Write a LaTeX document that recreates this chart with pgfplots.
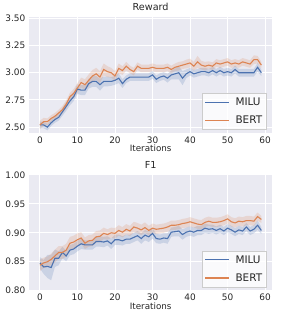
\documentclass[border=0pt]{standalone}
\usepackage{pgfplots}
\pgfplotsset{compat=1.18}
\usepackage{pgfplotstable}
\usepgfplotslibrary{fillbetween}
\usepackage{fontspec}
\setmainfont{DejaVu Sans}
\definecolor{sbblue}{HTML}{4C72B0}
\definecolor{sborange}{HTML}{DD8452}
\definecolor{sbbg}{HTML}{EAEAF2}
\definecolor{sbtext}{gray}{0.15}
\definecolor{sbedge}{gray}{0.8}

\pgfplotstableread{
x m d
0 2.52 0.030
1 2.52 0.030
2 2.50 0.030
3 2.54 0.030
4 2.57 0.030
5 2.59 0.030
6 2.64 0.035
7 2.69 0.040
8 2.74 0.040
9 2.78 0.040
10 2.85 0.045
11 2.84 0.045
12 2.84 0.045
13 2.90 0.045
14 2.92 0.050
15 2.92 0.050
16 2.89 0.055
17 2.92 0.045
18 2.92 0.045
19 2.92 0.040
20 2.93 0.040
21 2.95 0.045
22 2.90 0.040
23 2.94 0.035
24 2.96 0.035
25 2.96 0.035
26 2.96 0.035
27 2.96 0.035
28 2.96 0.035
29 2.96 0.035
30 2.98 0.035
31 2.94 0.035
32 2.96 0.035
33 2.97 0.035
34 2.95 0.040
35 2.98 0.040
36 2.99 0.050
37 3.00 0.060
38 2.95 0.065
39 2.99 0.040
40 3.01 0.035
41 2.99 0.035
42 3.00 0.035
43 3.01 0.035
44 3.01 0.035
45 3.00 0.035
46 3.02 0.035
47 3.00 0.035
48 3.02 0.035
49 3.00 0.035
50 3.01 0.035
51 3.00 0.035
52 3.03 0.035
53 3.00 0.035
54 3.00 0.035
55 3.00 0.035
56 3.00 0.035
57 3.00 0.035
58 3.05 0.040
59 3.00 0.030
}\milureward

\pgfplotstableread{
x m d
0 2.52 0.040
1 2.55 0.035
2 2.55 0.030
3 2.58 0.030
4 2.60 0.030
5 2.63 0.030
6 2.66 0.035
7 2.71 0.035
8 2.78 0.035
9 2.81 0.040
10 2.86 0.045
11 2.91 0.045
12 2.89 0.050
13 2.93 0.055
14 2.97 0.055
15 2.99 0.055
16 2.96 0.055
17 3.03 0.055
18 3.01 0.050
19 3.00 0.045
20 2.97 0.045
21 3.04 0.045
22 3.02 0.040
23 3.06 0.040
24 3.03 0.035
25 3.01 0.035
26 3.06 0.035
27 3.04 0.035
28 3.04 0.035
29 3.04 0.035
30 3.05 0.035
31 3.04 0.035
32 3.04 0.035
33 3.04 0.035
34 3.05 0.035
35 3.03 0.035
36 3.05 0.035
37 3.06 0.040
38 3.07 0.035
39 3.08 0.040
40 3.09 0.040
41 3.06 0.040
42 3.10 0.055
43 3.07 0.040
44 3.06 0.040
45 3.07 0.035
46 3.06 0.035
47 3.09 0.035
48 3.08 0.035
49 3.09 0.035
50 3.10 0.035
51 3.08 0.035
52 3.09 0.035
53 3.08 0.035
54 3.10 0.035
55 3.09 0.035
56 3.08 0.035
57 3.12 0.040
58 3.12 0.035
59 3.07 0.030
}\bertreward

\pgfplotstableread{
x m d
0 0.848 0.010
1 0.841 0.012
2 0.842 0.020
3 0.840 0.022
4 0.856 0.015
5 0.856 0.012
6 0.866 0.010
7 0.860 0.009
8 0.870 0.009
9 0.872 0.009
10 0.877 0.009
11 0.881 0.009
12 0.879 0.008
13 0.879 0.008
14 0.879 0.008
15 0.885 0.009
16 0.885 0.009
17 0.884 0.009
18 0.886 0.008
19 0.881 0.009
20 0.888 0.009
21 0.888 0.009
22 0.886 0.008
23 0.889 0.008
24 0.889 0.008
25 0.892 0.008
26 0.895 0.008
27 0.890 0.009
28 0.896 0.009
29 0.893 0.009
30 0.899 0.009
31 0.890 0.008
32 0.889 0.008
33 0.891 0.008
34 0.890 0.009
35 0.901 0.008
36 0.902 0.008
37 0.903 0.009
38 0.897 0.009
39 0.901 0.008
40 0.903 0.008
41 0.901 0.008
42 0.904 0.008
43 0.904 0.008
44 0.908 0.008
45 0.906 0.008
46 0.907 0.007
47 0.904 0.007
48 0.907 0.007
49 0.903 0.007
50 0.908 0.007
51 0.905 0.007
52 0.901 0.007
53 0.905 0.007
54 0.903 0.007
55 0.910 0.007
56 0.903 0.007
57 0.906 0.007
58 0.913 0.008
59 0.904 0.006
}\miluff

\pgfplotstableread{
x m d
0 0.844 0.010
1 0.848 0.009
2 0.850 0.009
3 0.854 0.010
4 0.860 0.011
5 0.866 0.011
6 0.866 0.011
7 0.870 0.011
8 0.882 0.011
9 0.884 0.011
10 0.888 0.011
11 0.891 0.010
12 0.882 0.010
13 0.886 0.010
14 0.887 0.010
15 0.893 0.010
16 0.894 0.010
17 0.899 0.010
18 0.897 0.009
19 0.900 0.009
20 0.899 0.009
21 0.904 0.009
22 0.901 0.009
23 0.906 0.009
24 0.903 0.009
25 0.910 0.009
26 0.908 0.009
27 0.905 0.009
28 0.909 0.009
29 0.904 0.008
30 0.908 0.008
31 0.906 0.008
32 0.907 0.008
33 0.908 0.008
34 0.910 0.008
35 0.913 0.008
36 0.913 0.008
37 0.914 0.008
38 0.916 0.008
39 0.917 0.008
40 0.919 0.008
41 0.917 0.008
42 0.915 0.008
43 0.914 0.008
44 0.918 0.008
45 0.920 0.008
46 0.918 0.008
47 0.918 0.008
48 0.919 0.008
49 0.921 0.008
50 0.924 0.008
51 0.919 0.008
52 0.917 0.008
53 0.920 0.008
54 0.919 0.008
55 0.921 0.008
56 0.921 0.008
57 0.920 0.008
58 0.928 0.007
59 0.923 0.006
}\bertff

\pgfplotsset{sbstyle/.style={
  scale only axis, width=245pt, height=116.5pt,
  axis background/.style={fill=sbbg},
  axis line style={draw=none},
  grid=major, major grid style={white, line width=0.9pt},
  tick style={draw=none},
  xmin=-2.95, xmax=61.95, xtick={0,10,...,60},
  ticklabel style={font=\fontsize{9}{10}\selectfont, text=sbtext},
  /pgf/number format/assume math mode=true,
  xlabel={Iterations},
  xlabel style={font=\fontsize{8.8}{10}\selectfont, text=sbtext, yshift=5pt},
  title style={font=\fontsize{9.7}{11}\selectfont, text=sbtext, yshift=-3pt},
  legend cell align=left,
  legend style={at={(0.975,0.03)}, anchor=south east,
    font=\fontsize{10.5}{12}\selectfont, text=sbtext,
    draw=sbedge, fill=white, fill opacity=0.8, text opacity=1,
    inner xsep=2pt, inner ysep=2.5pt, row sep=5pt,
    nodes={inner sep=2pt}},
  legend image code/.code={\draw[#1] (0pt,0pt) -- (24pt,0pt); \path (0pt,0pt) (28pt,0pt);},
}}

\begin{document}
\begin{tikzpicture}
\begin{axis}[sbstyle, at={(29pt,192pt)}, anchor=south west,
  title={Reward}, ymin=2.445, ymax=3.51,
  ytick={2.50,2.75,3.00,3.25,3.50},
  yticklabel style={/pgf/number format/.cd, fixed, fixed zerofill, precision=2}]
\addplot[name path=mrh, draw=none, forget plot] table[x=x, y expr=\thisrow{m}+\thisrow{d}] {\milureward};
\addplot[name path=mrl, draw=none, forget plot] table[x=x, y expr=\thisrow{m}-\thisrow{d}] {\milureward};
\addplot[fill=sbblue, fill opacity=0.2, draw=none, forget plot] fill between[of=mrh and mrl];
\addplot[name path=brh, draw=none, forget plot] table[x=x, y expr=\thisrow{m}+\thisrow{d}] {\bertreward};
\addplot[name path=brl, draw=none, forget plot] table[x=x, y expr=\thisrow{m}-\thisrow{d}] {\bertreward};
\addplot[fill=sborange, fill opacity=0.2, draw=none, forget plot] fill between[of=brh and brl];
\addplot[sbblue, line width=1.1pt] table[x=x, y=m] {\milureward};
\addlegendentry{MILU}
\addplot[sborange, line width=1.1pt] table[x=x, y=m] {\bertreward};
\addlegendentry{BERT}
\end{axis}
\begin{axis}[sbstyle, at={(29pt,33.5pt)}, anchor=south west,
  title={F1}, ymin=0.80, ymax=1.00,
  ytick={0.80,0.85,0.90,0.95,1.00},
  yticklabel style={/pgf/number format/.cd, fixed, fixed zerofill, precision=2}]
\addplot[name path=mfh, draw=none, forget plot] table[x=x, y expr=\thisrow{m}+\thisrow{d}] {\miluff};
\addplot[name path=mfl, draw=none, forget plot] table[x=x, y expr=\thisrow{m}-\thisrow{d}] {\miluff};
\addplot[fill=sbblue, fill opacity=0.2, draw=none, forget plot] fill between[of=mfh and mfl];
\addplot[name path=bfh, draw=none, forget plot] table[x=x, y expr=\thisrow{m}+\thisrow{d}] {\bertff};
\addplot[name path=bfl, draw=none, forget plot] table[x=x, y expr=\thisrow{m}-\thisrow{d}] {\bertff};
\addplot[fill=sborange, fill opacity=0.2, draw=none, forget plot] fill between[of=bfh and bfl];
\addplot[sbblue, line width=1.1pt] table[x=x, y=m] {\miluff};
\addlegendentry{MILU}
\addplot[sborange, line width=1.1pt] table[x=x, y=m] {\bertff};
\addlegendentry{BERT}
\end{axis}
\path (0,0) (288pt,324pt);
\end{tikzpicture}
\end{document}
